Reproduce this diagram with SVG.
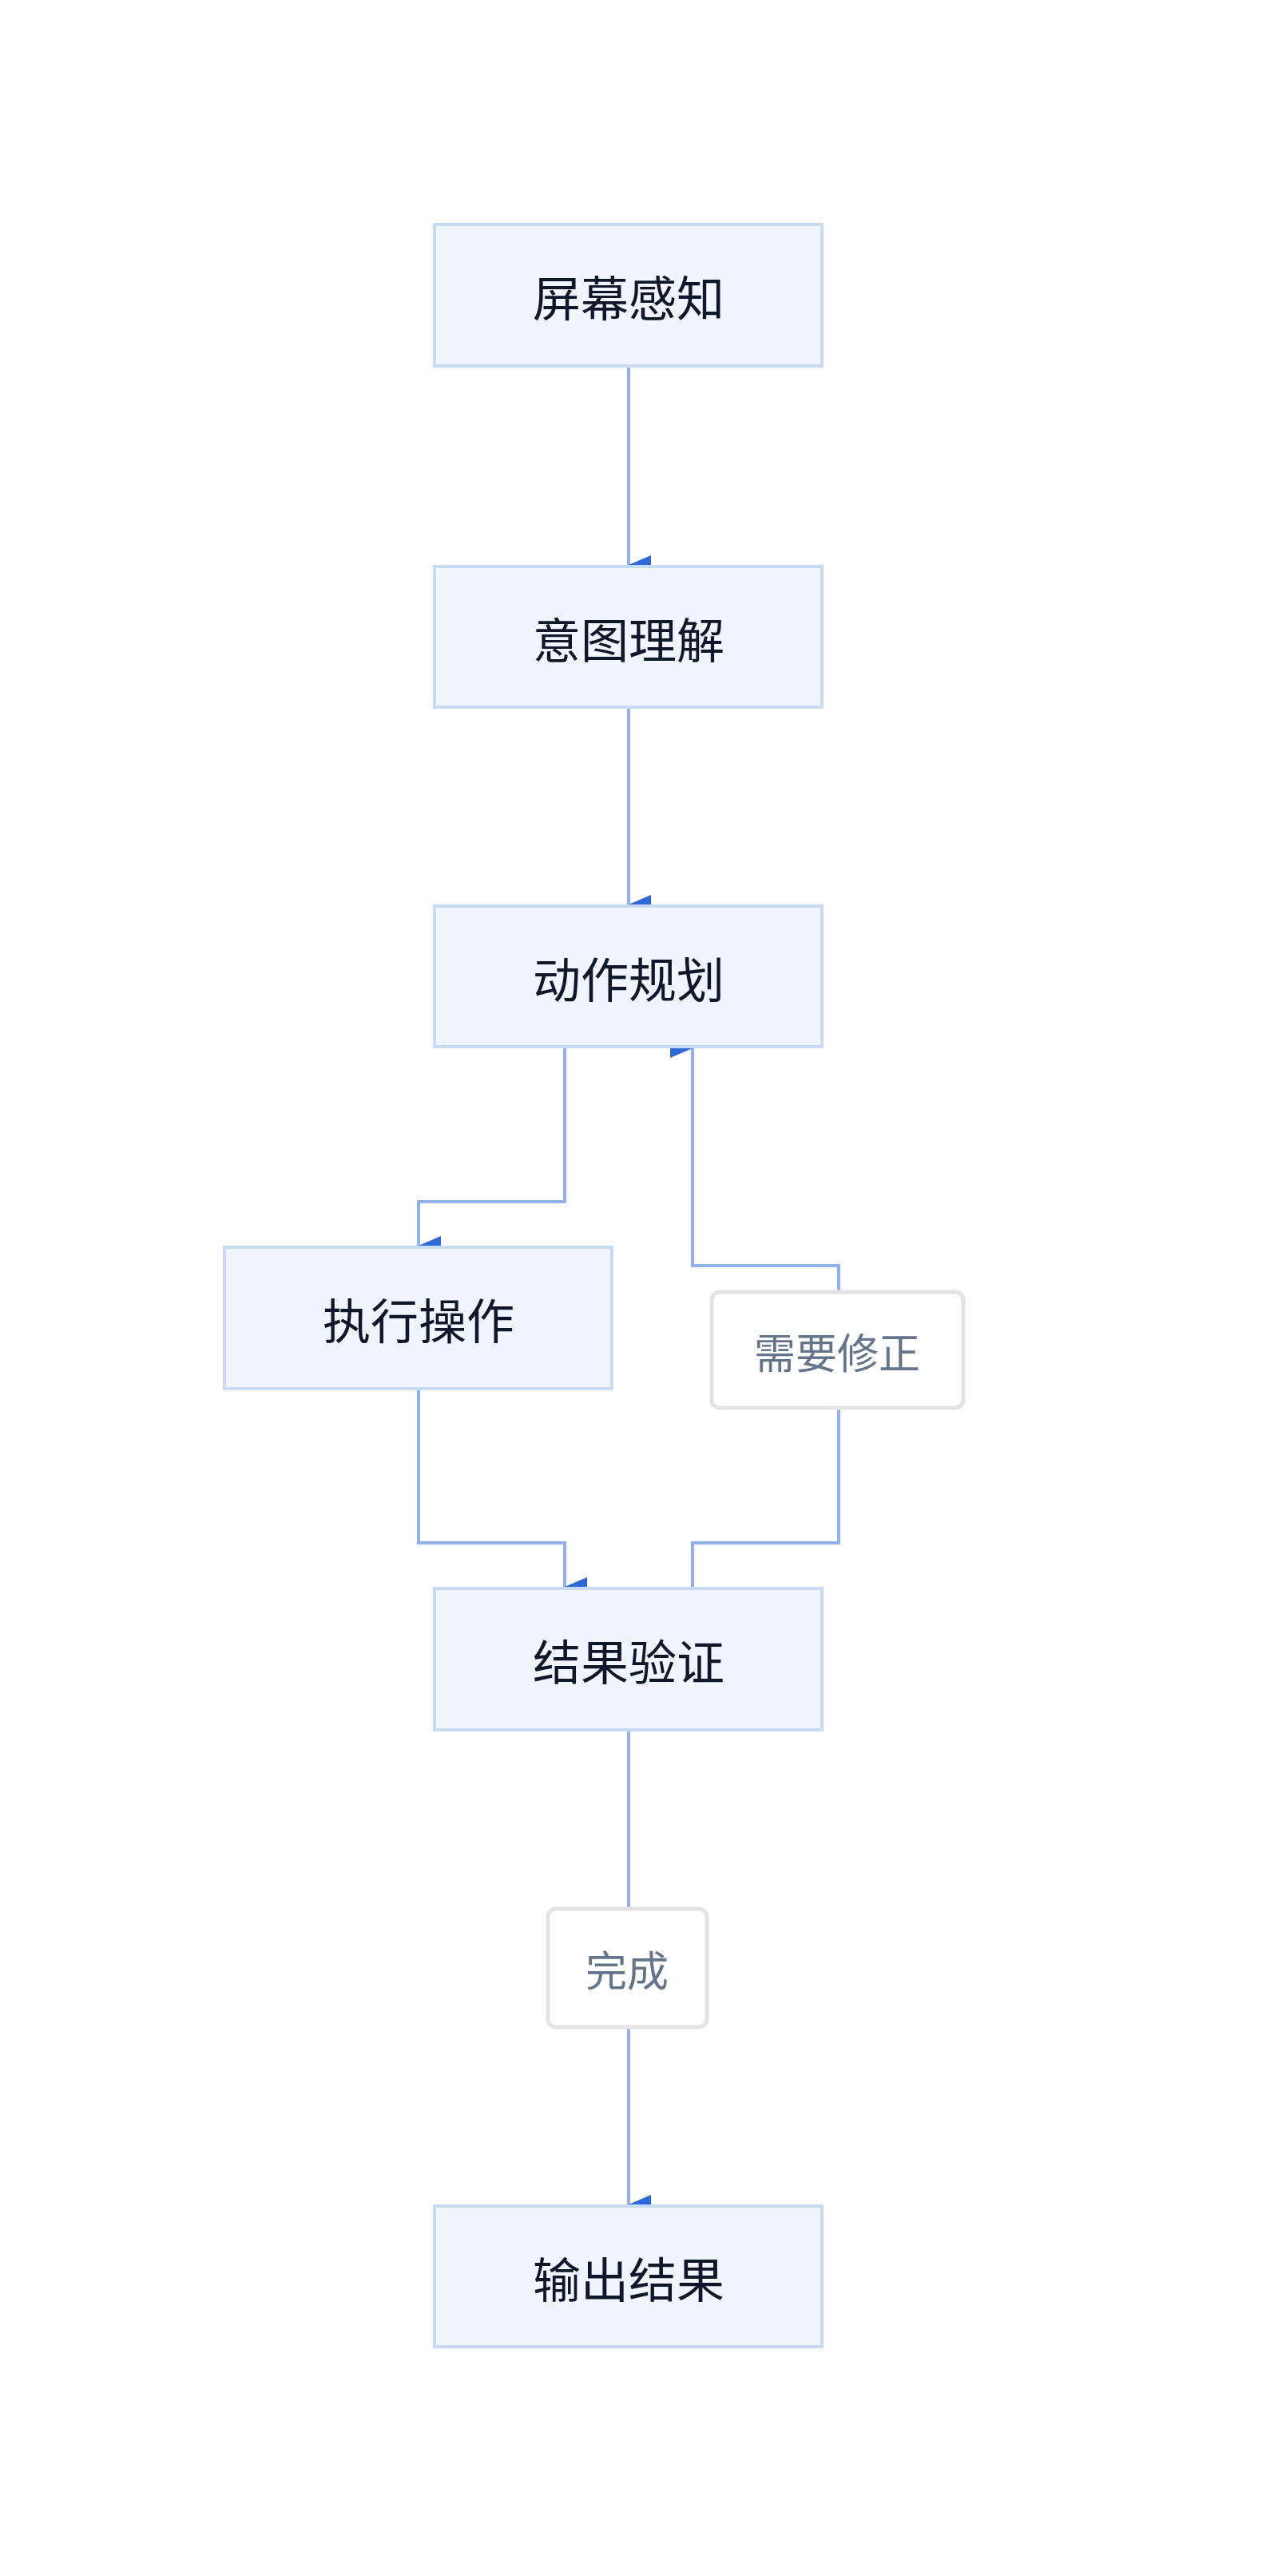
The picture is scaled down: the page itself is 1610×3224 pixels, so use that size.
<svg xmlns="http://www.w3.org/2000/svg" width="1610" height="3224" viewBox="0 0 1610 3224">
<style>
.n rect{fill:#f1f6fe;stroke:#c9daf5;stroke-width:4}
.n text{font-family:"Noto Sans CJK SC",sans-serif;font-size:60px;fill:#0f172a;text-anchor:middle;dominant-baseline:central}
.l rect{fill:#fff;stroke:#e3e3e3;stroke-width:5}
.l text{font-family:"Noto Sans CJK SC",sans-serif;font-size:52px;fill:#64748b;text-anchor:middle;dominant-baseline:central}
.e path{fill:none;stroke:#8fb2ee;stroke-width:4}
</style>
<defs><marker id="a" viewBox="0 0 24 28" refX="12" refY="28" markerWidth="24" markerHeight="28" markerUnits="userSpaceOnUse" orient="auto-start-reverse"><path d="M0,0 L24,0 L12,28 Z" fill="#2f69d9"/></marker></defs>
<rect width="1610" height="3224" fill="#fff"/>
<g class="e">
<path d="M787,460 V707" marker-end="url(#a)" transform=""/>
<path d="M787,887 V1132" marker-end="url(#a)"/>
<path d="M707,1312 V1504 H524 V1559" marker-end="url(#a)"/>
<path d="M524,1740 V1931 H707 V1986" marker-end="url(#a)"/>
<path d="M867,1988 V1931 H1050 V1762 M1050,1617 V1584 H867 V1312" marker-end="url(#a)"/>
<path d="M787,2167 V2389 M787,2537 V2759" marker-end="url(#a)"/>
</g>
<g id="n1" class="n"><rect x="544" y="281" width="485" height="177"/><text x="787" y="369">屏幕感知</text></g>
<g id="n2" class="n"><rect x="544" y="709" width="485" height="176"/><text x="787" y="797">意图理解</text></g>
<g id="n3" class="n"><rect x="544" y="1134" width="485" height="176"/><text x="787" y="1222">动作规划</text></g>
<g id="n4" class="n"><rect x="281" y="1561" width="485" height="177"/><text x="524" y="1649">执行操作</text></g>
<g id="n5" class="n"><rect x="544" y="1988" width="485" height="177"/><text x="787" y="2076">结果验证</text></g>
<g id="n6" class="n"><rect x="544" y="2761" width="485" height="176"/><text x="787" y="2849">输出结果</text></g>
<g id="l1" class="l"><rect x="891" y="1617" width="315" height="145" rx="10"/><text x="1048" y="1690">需要修正</text></g>
<g id="l2" class="l"><rect x="686" y="2389" width="199" height="148" rx="10"/><text x="785" y="2463">完成</text></g>
</svg>
